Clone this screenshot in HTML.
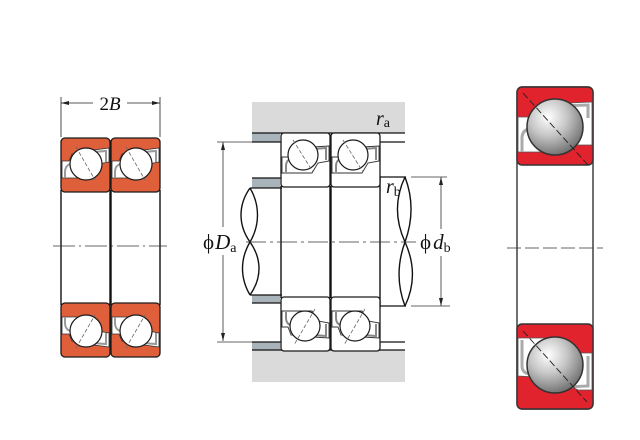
<!DOCTYPE html>
<html><head><meta charset="utf-8"><style>
html,body{margin:0;padding:0;background:#fff;}
svg{display:block;}
text{font-family:"Liberation Serif","DejaVu Serif",serif;fill:#111;}
</style></head><body>
<svg width="640" height="440" viewBox="0 0 640 440" xmlns="http://www.w3.org/2000/svg">
<defs>
<radialGradient id="bg" cx="0.38" cy="0.32" r="0.75">
<stop offset="0" stop-color="#ffffff"/>
<stop offset="0.45" stop-color="#c6c6c6"/>
<stop offset="1" stop-color="#666666"/>
</radialGradient>
<g id="lb">
<rect x="0" y="138" width="49" height="54" rx="4" fill="#df5f3b" stroke="#1a1a1a" stroke-width="1.3"/>
<path d="M1,161 H8 L11,154 L33,150 L48,148 V162 L37,164 L28,178 H1 Z" fill="#fff" stroke="#333" stroke-width="0.8"/>
<path d="M9,164 Q4,166 4,172 V178" fill="none" stroke="#999" stroke-width="2"/>
<path d="M32,152 L45,151 V162" fill="none" stroke="#999" stroke-width="2"/>
<circle cx="25" cy="164" r="16" fill="#fff" stroke="#1a1a1a" stroke-width="1.2"/>
<line x1="15" y1="147" x2="34" y2="180" stroke="#666" stroke-width="0.8" stroke-dasharray="4 2"/>
</g>
<g id="mb">
<rect x="0" y="133" width="49" height="54" rx="3" fill="#fff" stroke="#1a1a1a" stroke-width="1.3"/>
<path d="M1,157 H7 L10,149 L32,147 L48,146 V161 L37,163 L31,173 H1 Z" fill="#fff" stroke="#333" stroke-width="0.9"/>
<path d="M9,159 Q5,161 5,166 V172" fill="none" stroke="#888" stroke-width="2"/>
<path d="M33,149 L45,148 V160" fill="none" stroke="#888" stroke-width="2"/>
</g>
</defs>

<!-- LEFT BEARING PAIR -->
<path d="M61,190 V305 M110,190 V305 M111,190 V305 M160,190 V305" stroke="#111" stroke-width="1.4" fill="none"/>
<use href="#lb" transform="translate(61,0)"/>
<use href="#lb" transform="translate(111,0)"/>
<use href="#lb" transform="translate(61,495) scale(1,-1)"/>
<use href="#lb" transform="translate(111,495) scale(1,-1)"/>
<line x1="53" y1="246" x2="167" y2="246" stroke="#333" stroke-width="0.8" stroke-dasharray="22 4 2 4"/>
<!-- 2B dim -->
<path d="M61,97 V137 M160,97 V137 M61,103 H93 M127,103 H160" stroke="#222" stroke-width="0.8" fill="none"/>
<polygon points="61,103 69,101 69,105" fill="#222"/>
<polygon points="160,103 152,101 152,105" fill="#222"/>
<text x="110" y="110" font-size="19" text-anchor="middle">2<tspan font-style="italic">B</tspan></text>

<!-- MIDDLE MOUNTING -->
<rect x="252" y="102" width="153" height="31" fill="#dadada"/>
<rect x="252" y="350" width="153" height="32" fill="#dadada"/>
<rect x="252" y="133" width="28" height="9" fill="#a9b3ba"/>
<rect x="252" y="178" width="28" height="10" fill="#a9b3ba"/>
<rect x="252" y="295" width="28" height="8" fill="#a9b3ba"/>
<rect x="252" y="342" width="28" height="8" fill="#a9b3ba"/>
<path d="M252,133 H405 M252,142 H281 M380,142 H405 M252,178 H281 M250,188 H282 M250,295 H282 M252,303 H281 M252,342 H281 M380,342 H405 M252,350 H405 M380,177 H406 M380,306 H406" stroke="#111" stroke-width="1.3" fill="none"/>
<path d="M217,142 H252 M217,342 H252 M411,177 H447 M411,306 H450" stroke="#333" stroke-width="0.8" fill="none"/>
<!-- shaft breaks -->
<path d="M250,188 C238,205 238,225 250,242 C262,259 262,278 250,295 M250,188 C260,205 260,225 250,242 C240,259 240,278 250,295" stroke="#111" stroke-width="1.4" fill="none"/>
<path d="M405,177 C395,198 395,220 405,242 C415,264 415,285 405,306 M405,177 C413,198 413,220 405,242 C397,264 397,285 405,306" stroke="#111" stroke-width="1.4" fill="none"/>
<!-- bearing verticals -->
<path d="M281,186 V298 M330,186 V298 M331,186 V298 M380,176 V307" stroke="#111" stroke-width="1.4" fill="none"/>
<use href="#mb" transform="translate(281,0)"/>
<use href="#mb" transform="translate(331,0)"/>
<use href="#mb" transform="translate(281,484) scale(1,-1)"/>
<use href="#mb" transform="translate(331,484) scale(1,-1)"/>
<circle cx="303" cy="155" r="15" fill="#fff" stroke="#1a1a1a" stroke-width="1.2"/>
<circle cx="353" cy="155" r="15" fill="#fff" stroke="#1a1a1a" stroke-width="1.2"/>
<circle cx="305" cy="326" r="15" fill="#fff" stroke="#1a1a1a" stroke-width="1.2"/>
<circle cx="355" cy="326" r="15" fill="#fff" stroke="#1a1a1a" stroke-width="1.2"/>
<path d="M293,140 L313,172 M343,140 L363,172 M315,309 L294,345 M365,309 L344,345" stroke="#666" stroke-width="0.8" stroke-dasharray="4 2" fill="none"/>
<!-- centerline -->
<line x1="246" y1="242" x2="416" y2="242" stroke="#333" stroke-width="0.8" stroke-dasharray="20 4 3 4"/>
<!-- Da dim -->
<path d="M223,142 V227 M223,255 V341" stroke="#333" stroke-width="0.8" fill="none"/>
<polygon points="223,142 221,150 225,150" fill="#222"/>
<polygon points="223,341 221,333 225,333" fill="#222"/>
<!-- db dim -->
<path d="M441,177 V229 M441,256 V306" stroke="#333" stroke-width="0.8" fill="none"/>
<polygon points="441,177 439,185 443,185" fill="#222"/>
<polygon points="441,306 439,298 443,298" fill="#222"/>
<text x="203" y="249" font-size="21">ϕ<tspan dx="1" font-style="italic">D</tspan><tspan font-size="14" dy="3">a</tspan></text>
<text x="420" y="249" font-size="21">ϕ<tspan dx="2" font-style="italic">d</tspan><tspan font-size="14" dy="3">b</tspan></text>
<text x="376" y="125" font-size="20" font-style="italic">r<tspan font-size="14" font-style="normal" dy="2">a</tspan></text>
<text x="386" y="193" font-size="20" font-style="italic">r<tspan font-size="14" font-style="normal" dy="3">b</tspan></text>

<!-- RIGHT BEARING -->
<rect x="517" y="87" width="76" height="322" rx="5" fill="#fff" stroke="#333" stroke-width="1.4"/>
<rect x="517" y="87" width="76" height="78" rx="5" fill="#e0232c" stroke="#333" stroke-width="1.4"/>
<path d="M518,117 H530 L546,104 L592,102 V145 H576 L562,152 H518 Z" fill="#fff" stroke="#555" stroke-width="0.8"/>
<path d="M531,128 Q522,130 522,138 V152" fill="none" stroke="#aaa" stroke-width="3"/>
<path d="M560,106 L588,105 V118" fill="none" stroke="#aaa" stroke-width="3"/>
<circle cx="555" cy="127" r="28" fill="url(#bg)" stroke="#333" stroke-width="1.5"/>
<line x1="523" y1="93" x2="588" y2="165" stroke="#222" stroke-width="0.9" stroke-dasharray="7 3"/>

<rect x="517" y="324" width="76" height="85" rx="5" fill="#e0232c" stroke="#333" stroke-width="1.4"/>
<path d="M518,338 H548 L580,353 H592 V390 H578 L555,378 L518,376 Z" fill="#fff" stroke="#555" stroke-width="0.8"/>
<path d="M522,340 V366 Q522,373 530,374" fill="none" stroke="#aaa" stroke-width="3"/>
<path d="M588,356 V386 L566,387" fill="none" stroke="#aaa" stroke-width="3"/>
<circle cx="555" cy="365" r="28" fill="url(#bg)" stroke="#333" stroke-width="1.5"/>
<line x1="523" y1="331" x2="587" y2="402" stroke="#222" stroke-width="0.9" stroke-dasharray="7 3"/>
<line x1="507" y1="248" x2="603" y2="248" stroke="#333" stroke-width="0.8" stroke-dasharray="14 4"/>
</svg>
</body></html>
